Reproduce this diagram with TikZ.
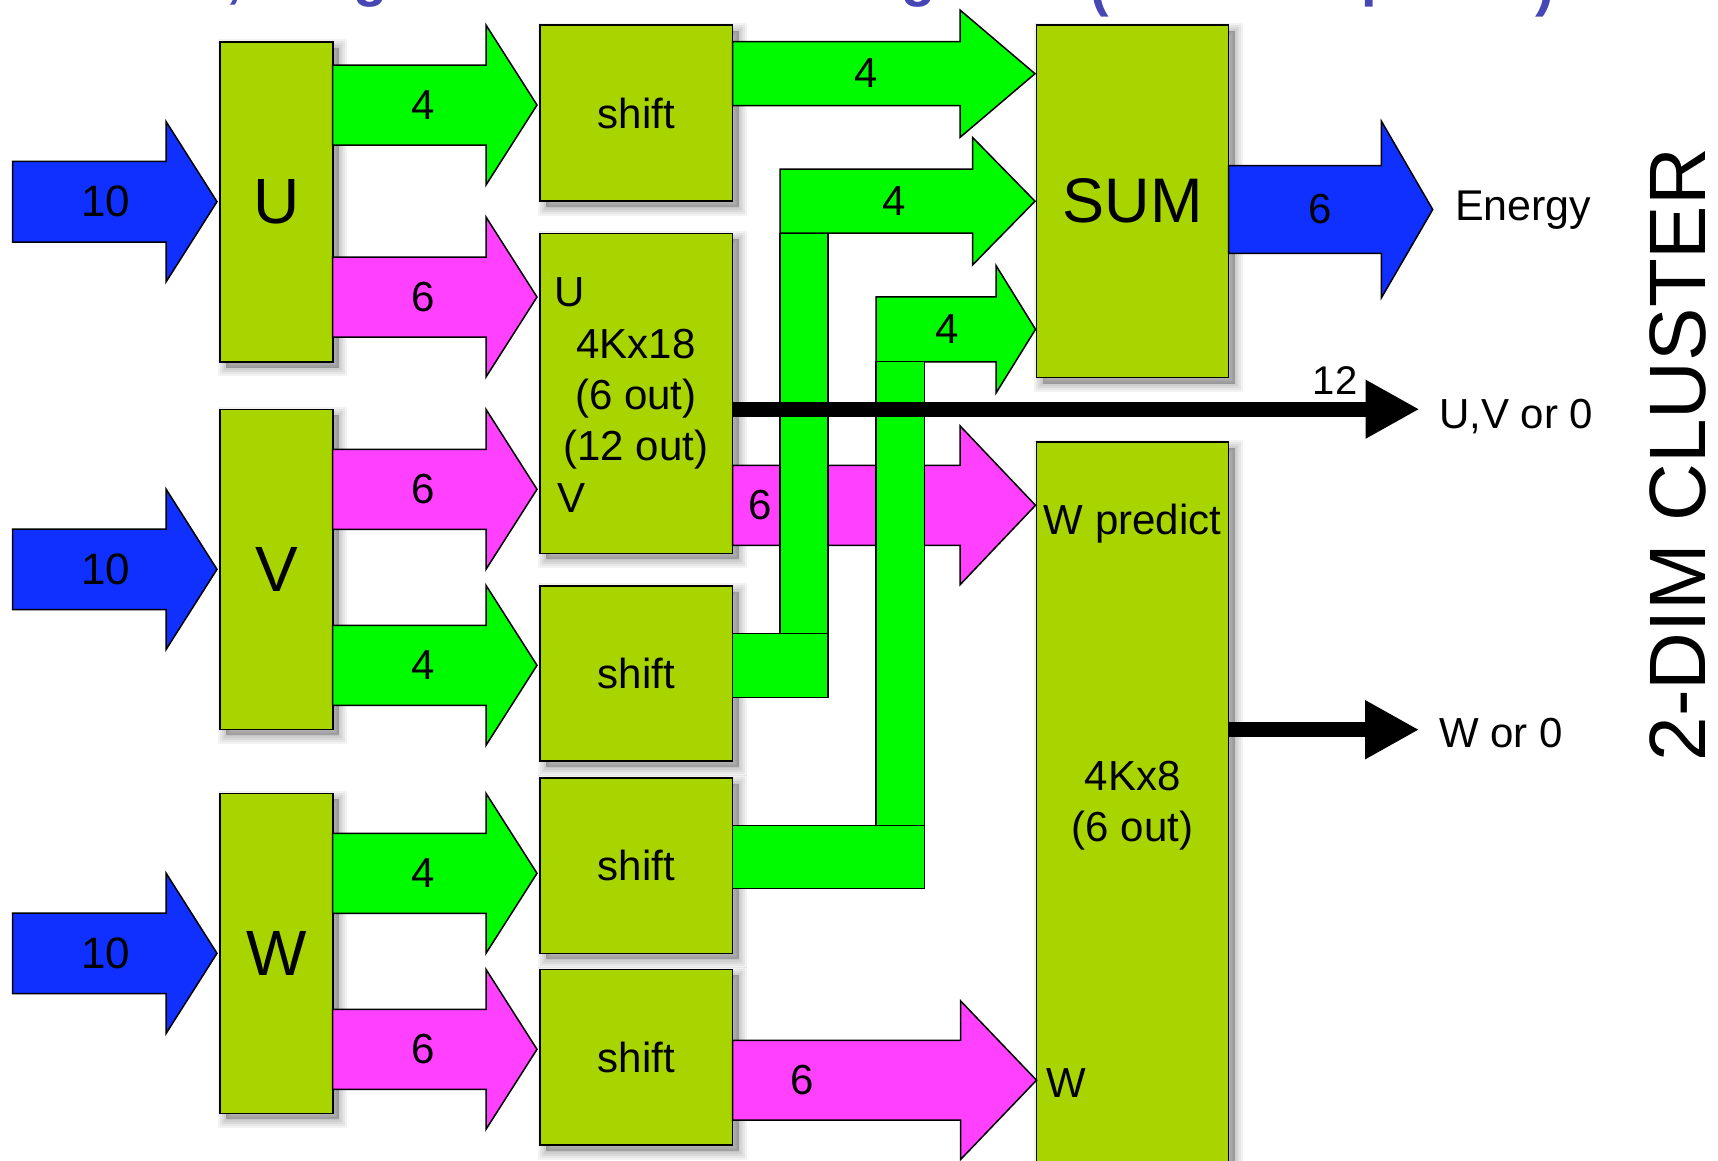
\documentclass[tikz,border=0pt]{standalone}
\usepackage{fontspec}
\setmainfont{Liberation Sans}
\usetikzlibrary{calc,arrows.meta}

\definecolor{boxgreen}{RGB}{168,212,0}
\definecolor{busgreen}{RGB}{0,250,0}
\definecolor{busmagenta}{RGB}{255,64,255}
\definecolor{busblue}{RGB}{16,48,255}
\definecolor{titleblue}{RGB}{70,70,180}

\begin{document}
\begin{tikzpicture}[x=1pt,y=-1pt,
  % soft drop shadow built from a few translucent layers
  shadowlayer/.style={preaction={draw=black,fill=black,line width=#1,opacity=0.05,
      transform canvas={xshift=6pt,yshift=-6pt}}},
  softshadow/.style={shadowlayer=1pt,shadowlayer=5pt,shadowlayer=9pt,shadowlayer=13pt,shadowlayer=17pt},
  box/.style={softshadow,draw=black,line width=1.6pt,fill=boxgreen,inner sep=0pt,outer sep=0pt},
  txt/.style={inner sep=0pt,outer sep=0pt,font=\fontsize{42}{50}\selectfont},
  bigtxt/.style={font=\fontsize{64}{64}\selectfont},
  outline/.style={draw=black,line width=1.5pt,line join=miter},
  % block arrow: shaft half width, head half width, head length, gap before target
  barrow/.style n args={4}{to path={let \p1=(\tikztostart), \p2=(\tikztotarget) in
    (\x1,\y1+#1) -- (\x2-#4-#3,\y1+#1) -- (\x2-#4-#3,\y1+#2) -- (\x2-#4,\y1)
    -- (\x2-#4-#3,\y1-#2) -- (\x2-#4-#3,\y1-#1) -- (\x1,\y1-#1) -- cycle}},
  inbus/.style={outline,fill=busblue,barrow={40.3pt}{80.3pt}{51pt}{3pt}},
  gbus/.style={outline,fill=busgreen,barrow={40pt}{80pt}{51pt}{3pt}},
  mbus/.style={outline,fill=busmagenta,barrow={40pt}{80pt}{51pt}{3pt}},
  piece/.style={outline,fill=busgreen},
  wire/.style={line width=15pt,-{Triangle[length=54pt,width=55pt]}},
  frag/.style={inner sep=0pt,outer sep=0pt,text=titleblue,font=\bfseries\fontsize{56}{56}\selectfont}
]
\useasboundingbox (0,0) rectangle (1718,1160);

% title line, cut off by the page edge
\node[frag,anchor=base] (t1) at (234,-4) {,};
\node[frag,anchor=base] (t2) at (371,-4.8) {g};
\node[frag,anchor=base] (t3) at (919,-4.8) {g};
\node[frag,anchor=base] (t4) at (1100,5.2) {(};
\node[frag,anchor=base west] (t5) at (1361,-4.8) {p};
\node[frag,anchor=base] (t6) at (1545,5.2) {)};

% input stage
\node[box,bigtxt,minimum width=112.7pt,minimum height=320pt] (U) at (276.35,201.7) {U};
\node[box,bigtxt,minimum width=112.7pt,minimum height=320pt] (V) at (276.35,569.3) {V};
\node[box,bigtxt,minimum width=112.7pt,minimum height=320pt] (W) at (276.35,953.3) {W};

% middle column
\node[box,txt,minimum width=192.5pt,minimum height=176pt] (s1) at (636.25,113) {shift};
\node[box,minimum width=192.5pt,minimum height=320pt] (lut) at (636.25,393.3) {};
\node[box,txt,minimum width=192.5pt,minimum height=175.3pt] (s2) at (636.25,673.35) {shift};
\node[box,txt,minimum width=192.5pt,minimum height=175.6pt] (s3) at (636.25,865.5) {shift};
\node[box,txt,minimum width=192.5pt,minimum height=175.7pt] (s4) at (636.25,1057.15) {shift};

% output column
\node[box,font=\fontsize{63}{63}\selectfont,minimum width=192pt,minimum height=352.5pt] (sum) at (1132.5,201.25) {SUM};
\node[box,minimum width=192pt,minimum height=758pt] (wp) at (1132.5,821) {};

% bus levels
\coordinate (lft) at (12.5,0);
\coordinate (rU4) at (0,105);
\coordinate (rU6) at (0,297);
\coordinate (rV6) at (0,489.3);
\coordinate (rV4) at (0,665.3);
\coordinate (rW4) at (0,873.3);
\coordinate (rW6) at (0,1049.3);
\coordinate (rS1) at (0,73.7);
\coordinate (rL6) at (0,505.3);
\coordinate (rS4) at (0,1080.2);
\coordinate (rUV) at (0,409.2);
\coordinate (rW0) at (0,729.7);
\coordinate (rE) at (0,209.5);
\coordinate (bendA) at (780,201.2);
\coordinate (bendB) at (876,329.3);
\coordinate (eTip) at (1432.7,209.5);
\coordinate (uvTip) at (1419.5,409.2);
\coordinate (w0Tip) at (1419.2,729.7);

% 10-bit inputs
\draw[inbus] (U.west -| lft) to (U.west);
\draw[inbus] (V.west -| lft) to (V.west);
\draw[inbus] (W.west -| lft) to (W.west);

% split into 4 + 6 bits
\draw[gbus] (U.east |- rU4) to (s1.west |- rU4);
\draw[mbus] (U.east |- rU6) to (lut.west |- rU6);
\draw[mbus] (V.east |- rV6) to (lut.west |- rV6);
\draw[gbus] (V.east |- rV4) to (s2.west |- rV4);
\draw[gbus] (W.east |- rW4) to (s3.west |- rW4);
\draw[mbus] (W.east |- rW6) to (s4.west |- rW6);

% into SUM and W predict
\draw[outline,fill=busgreen,barrow={32pt}{63.7pt}{75pt}{1.5pt}] (s1.east |- rS1) to (sum.west |- rS1);
\draw[outline,fill=busmagenta,barrow={40pt}{79.5pt}{75.5pt}{1pt}] (lut.east |- rL6) to (wp.west |- rL6);
\draw[outline,fill=busmagenta,barrow={39.9pt}{79.4pt}{76pt}{0pt}] (s4.east |- rS4) to (wp.west |- rS4);

% routed 4-bit buses from the lower shifters
\draw[outline,fill=busgreen,barrow={32pt}{63.85pt}{62.5pt}{1.5pt}] (bendA) to (sum.west |- bendA);
\draw[piece] (780,233.3) rectangle (828,633.7);
\draw[piece] (s2.east |- 0,633.7) rectangle (828,697.5);
\draw[outline,fill=busgreen,barrow={32.5pt}{63.8pt}{39.5pt}{1pt}] (bendB) to (sum.west |- bendB);
\draw[piece] (876,361.7) rectangle (924.3,825.6);
\draw[piece] (s3.east |- 0,825.6) rectangle (924.3,888.3);

% 12-bit and W outputs
\draw[wire] (lut.east |- rUV) -- (uvTip);
\draw[wire] (wp.east |- rW0) -- (w0Tip);

% energy output
\draw[outline,fill=busblue,barrow={43.8pt}{88.3pt}{51.3pt}{0pt}] (sum.east |- rE) to (eTip);

% bus widths
\node[txt,font=\fontsize{44}{44}\selectfont] (n10u) at (105.7,201.7) {10};
\node[txt,font=\fontsize{44}{44}\selectfont] (n10v) at (105.7,569.3) {10};
\node[txt,font=\fontsize{44}{44}\selectfont] (n10w) at (105.7,953.3) {10};
\node[txt] (nu4) at (423,105) {4};
\node[txt] (nu6) at (423,297) {6};
\node[txt] (nv6) at (423,489.3) {6};
\node[txt] (nv4) at (423,665.3) {4};
\node[txt] (nw4) at (423,873.3) {4};
\node[txt] (nw6) at (423,1049.3) {6};
\node[txt] (ns1) at (866,73.5) {4};
\node[txt] (nA) at (894,201.2) {4};
\node[txt] (nB) at (947.5,329.3) {4};
\node[txt] (nl6) at (760,505.3) {6};
\node[txt] (ns4) at (802,1080.2) {6};
\node[txt] (ne6) at (1320,209) {6};
\node[txt,font=\fontsize{40}{40}\selectfont] (n12) at (1335,381) {12};

% look-up table labels
\node[txt,anchor=base west] (lutU) at (554,306.7) {U};
\node[txt,anchor=base] (lutA) at (636,358) {4Kx18};
\node[txt,anchor=base] (lutB) at (636,409.3) {(6 out)};
\node[txt,anchor=base] (lutC) at (636,460.6) {(12 out)};
\node[txt,anchor=base west] (lutV) at (557,512) {V};

% W predict labels
\node[txt,anchor=base] (wpA) at (1132.5,534) {W predict};
\node[txt,anchor=base] (wpB) at (1132.5,790.8) {4Kx8};
\node[txt,anchor=base] (wpC) at (1132.5,841.8) {(6 out)};
\node[txt,anchor=base west] (wpW) at (1046,1097.6) {W};

% outputs
\node[txt,font=\fontsize{43}{43}\selectfont,anchor=base west] (oE) at (1455,220) {Energy};
\node[txt,anchor=base west] (oUV) at (1439,428.3) {U,V or 0};
\node[txt,anchor=base west] (oW) at (1439,747.7) {W or 0};

\node[inner sep=0pt,rotate=90,font=\fontsize{80}{80}\selectfont] (cl) at (1678,454.5) {2-DIM CLUSTER};
\end{tikzpicture}
\end{document}
